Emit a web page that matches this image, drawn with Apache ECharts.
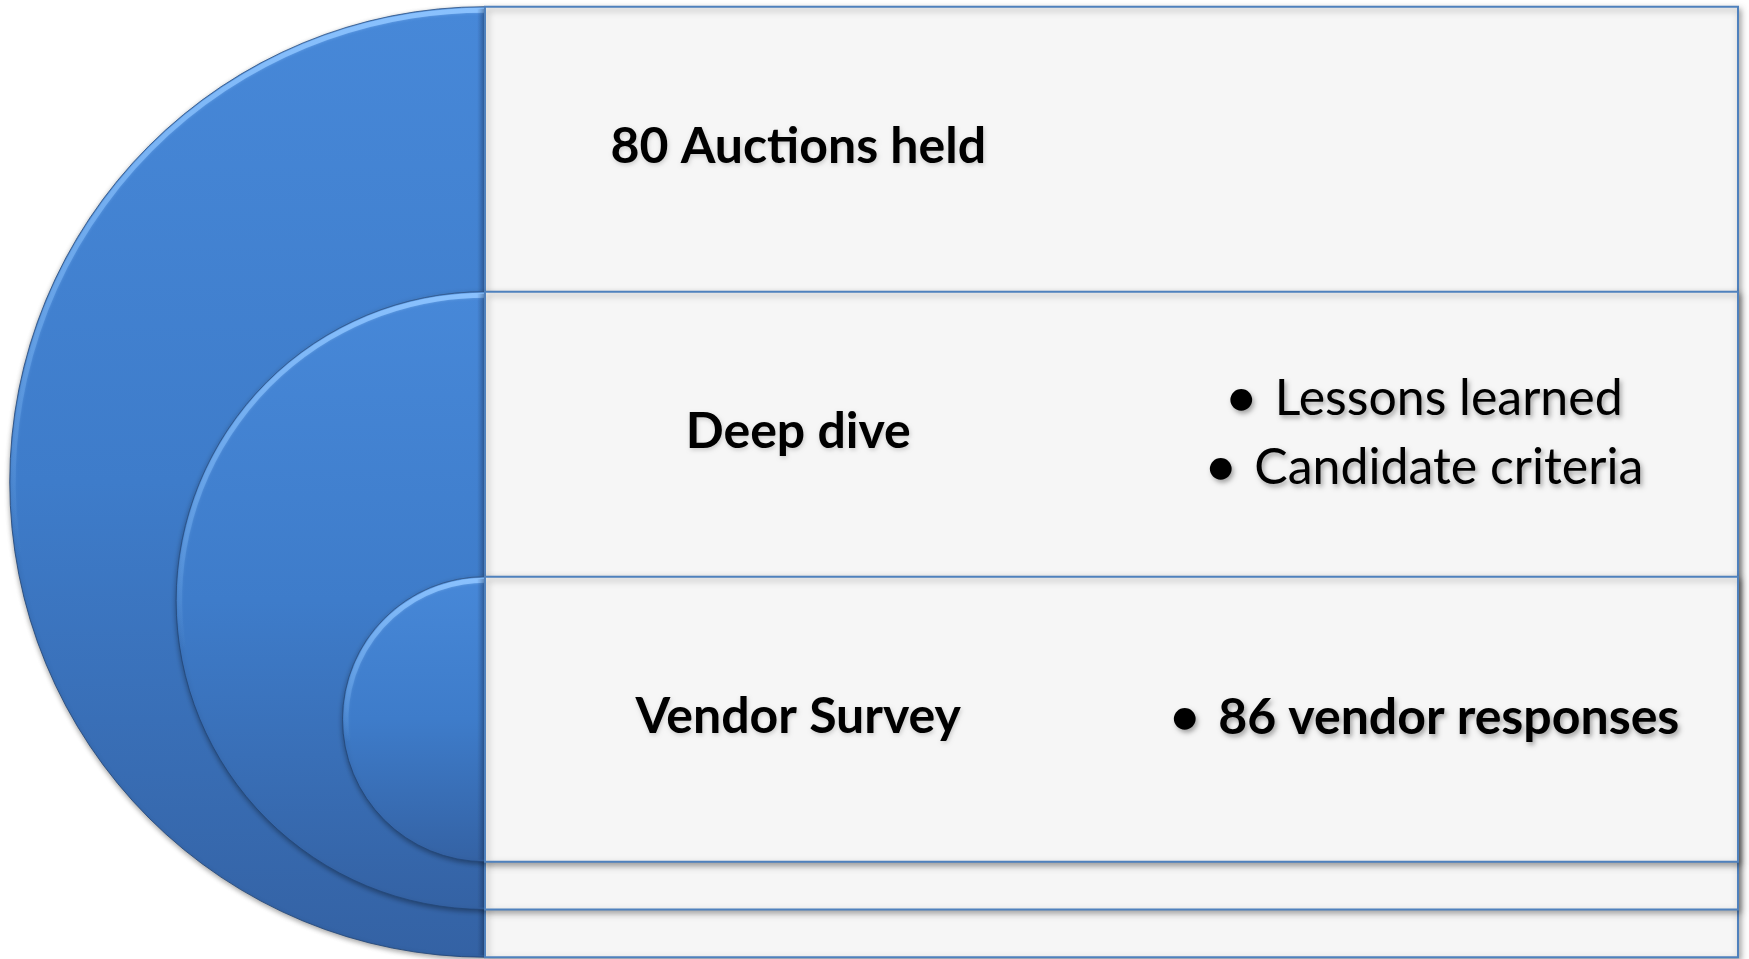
<!DOCTYPE html>
<html>
<head>
<meta charset="utf-8">
<style>
  html, body { margin: 0; padding: 0; background: #ffffff; }
  #chart { width: 1749px; height: 959px; }
</style>
<script src="https://cdn.jsdelivr.net/npm/echarts@6/dist/echarts.min.js"></script>
</head>
<body>
<div id="chart"></div>
<script>
// ---- data ----
const levels = ['80 Auctions held', 'Deep dive', 'Vendor Survey'];
const bullets = [[], ['Lessons learned', 'Candidate criteria'], ['86 vendor responses']];
const bulletBold = [false, false, true];

// ---- layout (pixels in axis units) ----
const L = { top: 6.7, bandH: 285, step: 47.75, cx: 485, right: 1738, lineH: 69 };
const totalBottom = L.top + levels.length * L.bandH + (levels.length - 1) * L.step;
const FONT = 'Lato, "Open Sans", sans-serif';

const chart = echarts.init(document.getElementById('chart'));

function renderItem(params, api) {
  const i = api.value(0);
  const t = L.top + i * L.bandH;
  const b = totalBottom - i * L.step;
  const p0 = api.coord([L.cx, t]);
  const p1 = api.coord([L.right, b]);
  const cy = (p0[1] + p1[1]) / 2;
  const r = (p1[1] - p0[1]) / 2;
  const cx = p0[0];
  const bandTop = p0[1];
  const bandBot = api.coord([0, t + L.bandH])[1];
  const bandMid = (bandTop + bandBot) / 2;
  const w = p1[0] - p0[0];

  const children = [];
  // semicircle
  children.push({
    type: 'sector',
    shape: { cx: cx, cy: cy, r: r, r0: 0, startAngle: Math.PI / 2, endAngle: Math.PI * 1.5, clockwise: true },
    style: {
      fill: new echarts.graphic.LinearGradient(0, 0, 0, 1, [
        { offset: 0, color: '#4788d8' },
        { offset: 0.5, color: '#3e7cca' },
        { offset: 1, color: '#3462a4' }
      ]),
      stroke: 'rgba(35,70,120,0.85)',
      lineWidth: 1,
      shadowBlur: 5,
      shadowOffsetY: 2,
      shadowColor: 'rgba(0,0,0,0.35)'
    }
  });
  // bevel highlight rim
  children.push({
    type: 'arc',
    shape: { cx: cx, cy: cy, r: r - 3.5, startAngle: Math.PI * 0.95, endAngle: Math.PI * 1.5, clockwise: true },
    style: {
      fill: null,
      stroke: new echarts.graphic.LinearGradient(0, 0, 0, 1, [
        { offset: 0, color: 'rgba(140,195,255,0.95)' },
        { offset: 0.6, color: 'rgba(120,180,245,0.45)' },
        { offset: 1, color: 'rgba(120,180,245,0)' }
      ]),
      lineWidth: 5,
      shadowBlur: 3,
      shadowColor: 'rgba(140,195,255,0.6)'
    },
    silent: true
  });
  // dark strip at flat edge
  children.push({
    type: 'rect',
    shape: { x: cx - 8, y: bandTop + 2, width: 8, height: p1[1] - bandTop - 4 },
    style: {
      fill: new echarts.graphic.LinearGradient(0, 0, 1, 0, [
        { offset: 0, color: 'rgba(20,45,90,0)' },
        { offset: 1, color: 'rgba(20,45,90,0.35)' }
      ])
    },
    silent: true
  });
  // rectangle
  children.push({
    type: 'rect',
    shape: { x: cx, y: bandTop, width: w, height: p1[1] - bandTop },
    style: {
      fill: '#f6f6f6',
      stroke: '#4f81bd',
      lineWidth: 2,
      shadowBlur: 6,
      shadowOffsetX: 2,
      shadowOffsetY: 3,
      shadowColor: 'rgba(0,0,0,0.35)'
    }
  });
  // label
  children.push({
    type: 'text',
    style: {
      text: levels[i],
      x: cx + w * 0.25,
      y: bandMid - 2,
      align: 'center',
      verticalAlign: 'middle',
      fill: '#000000',
      fontFamily: FONT,
      fontWeight: 'bold',
      fontSize: 50,
      textShadowColor: 'rgba(0,0,0,0.18)',
      textShadowBlur: 4,
      textShadowOffsetX: 1,
      textShadowOffsetY: 2
    }
  });
  // bullets: one centered line each
  const n = bullets[i].length;
  const weight = bulletBold[i] ? 'bold' : 'normal';
  bullets[i].forEach((s, k) => {
    const shadow = { textShadowColor: 'rgba(0,0,0,0.35)', textShadowBlur: 5, textShadowOffsetX: 2, textShadowOffsetY: 3 };
    children.push({
      type: 'text',
      style: {
        text: '{b|\u2022}{t|' + s + '}',
        x: cx + w * 0.75,
        y: bandMid - 1 + (k - (n - 1) / 2) * L.lineH,
        align: 'center',
        verticalAlign: 'middle',
        fill: '#000000',
        rich: {
          b: Object.assign({ fontFamily: FONT, fontSize: 50, fontWeight: 'bold', width: 48, align: 'left' }, shadow),
          t: Object.assign({ fontFamily: FONT, fontSize: 50, fontWeight: weight }, shadow)
        }
      }
    });
  });
  return { type: 'group', children: children };
}

chart.setOption({
  backgroundColor: '#ffffff',
  animation: false,
  grid: { left: 0, right: 0, top: 0, bottom: 0 },
  xAxis: { type: 'value', min: 0, max: 1749, show: false },
  yAxis: { type: 'value', min: 0, max: 959, inverse: true, show: false },
  series: [{
    type: 'custom',
    renderItem: renderItem,
    data: levels.map((_, i) => [i]),
    clip: false
  }]
});
</script>
</body>
</html>
